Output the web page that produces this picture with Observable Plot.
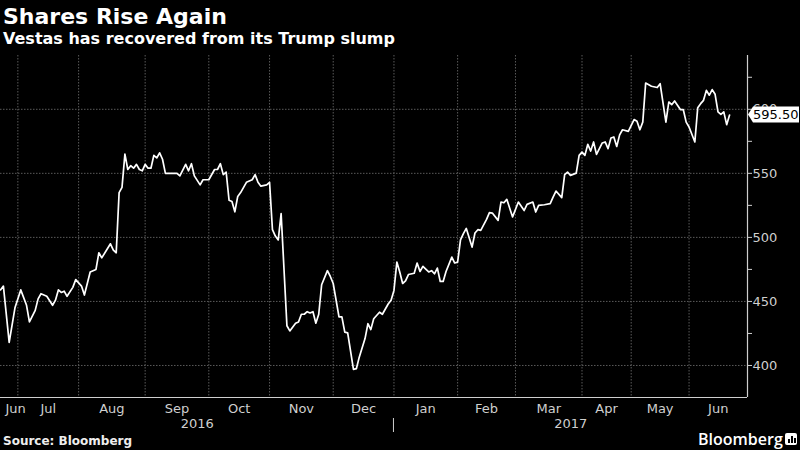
<!DOCTYPE html>
<html>
<head>
<meta charset="utf-8">
<script src="https://cdn.jsdelivr.net/npm/d3@7"></script>
<script src="https://cdn.jsdelivr.net/npm/@observablehq/plot@0.6"></script>
<style>
  html, body { margin: 0; padding: 0; background: #000; }
  #wrap { position: relative; width: 800px; height: 450px; background: #000; overflow: hidden; }
  .t { position: absolute; left: 3px; color: #fff; font-family: "DejaVu Sans", sans-serif; font-weight: bold; white-space: nowrap; }
  #title { top: 4px; font-size: 22px; line-height: 26px; }
  #subtitle { top: 29px; font-size: 16px; line-height: 20px; }
  #source { top: 434px; font-size: 12px; line-height: 14px; color: #eee; }
  #chart { position: absolute; left: 0; top: 50px; }
  #logo { position: absolute; left: 698px; top: 431px; font-family: "Open Sans", sans-serif; font-weight: 600; font-size: 16px; line-height: 16px; color: #fff; white-space: nowrap; }
  #icon { position: absolute; left: 785px; top: 433px; width: 12px; height: 12px; background: #fff; border-radius: 2px; }
  #icon i { position: absolute; bottom: 2px; width: 2px; background: #000; }
</style>
</head>
<body>
<div id="wrap">
  <div id="title" class="t">Shares Rise Again</div>
  <div id="subtitle" class="t">Vestas has recovered from its Trump slump</div>
  <div id="chart"></div>
  <div id="source" class="t">Source: Bloomberg</div>
  <div id="logo">Bloomberg</div>
  <div id="icon"><i style="left:3px;height:4px"></i><i style="left:6px;height:7px"></i><i style="left:9px;height:5px"></i></div>
</div>
<script>
// ---- data (Vestas share price, DKK) ----
const dates = [
  "2016-06-23","2016-06-24","2016-06-28","2016-06-30","2016-07-04","2016-07-06","2016-07-07","2016-07-11",
  "2016-07-12","2016-07-13","2016-07-15","2016-07-19","2016-07-20","2016-07-21","2016-07-22","2016-07-25",
  "2016-07-26","2016-07-28","2016-07-29","2016-08-02","2016-08-03","2016-08-05","2016-08-09","2016-08-10",
  "2016-08-11","2016-08-16","2016-08-17","2016-08-18","2016-08-19","2016-08-22","2016-08-23","2016-08-24",
  "2016-08-25","2016-08-26","2016-08-29","2016-08-30","2016-08-31","2016-09-01","2016-09-02","2016-09-05",
  "2016-09-06","2016-09-07","2016-09-08","2016-09-09","2016-09-12","2016-09-16","2016-09-19","2016-09-21",
  "2016-09-22","2016-09-23","2016-09-26","2016-09-28","2016-09-29","2016-10-03","2016-10-05","2016-10-06",
  "2016-10-07","2016-10-10","2016-10-11","2016-10-12","2016-10-13","2016-10-14","2016-10-17","2016-10-18",
  "2016-10-20","2016-10-24","2016-10-25","2016-10-26","2016-10-27","2016-10-31","2016-11-01","2016-11-02",
  "2016-11-03","2016-11-04","2016-11-07","2016-11-09","2016-11-10","2016-11-14","2016-11-15","2016-11-16",
  "2016-11-17","2016-11-18","2016-11-21","2016-11-22","2016-11-23","2016-11-24","2016-11-25","2016-11-29",
  "2016-11-30","2016-12-01","2016-12-05","2016-12-06","2016-12-07","2016-12-08","2016-12-12","2016-12-13",
  "2016-12-14","2016-12-16","2016-12-19","2016-12-20","2016-12-21","2016-12-23","2016-12-27","2016-12-29",
  "2016-12-30","2017-01-02","2017-01-03","2017-01-04","2017-01-05","2017-01-06","2017-01-09","2017-01-11",
  "2017-01-12","2017-01-13","2017-01-16","2017-01-18","2017-01-19","2017-01-20","2017-01-23","2017-01-24",
  "2017-01-25","2017-01-26","2017-01-30","2017-01-31","2017-02-01","2017-02-02","2017-02-03","2017-02-06",
  "2017-02-08","2017-02-09","2017-02-10","2017-02-13","2017-02-15","2017-02-16","2017-02-17","2017-02-21",
  "2017-02-22","2017-02-23","2017-02-24","2017-02-28","2017-03-02","2017-03-06","2017-03-07","2017-03-09",
  "2017-03-10","2017-03-13","2017-03-15","2017-03-17","2017-03-20","2017-03-21","2017-03-23","2017-03-24",
  "2017-03-27","2017-03-28","2017-03-30","2017-03-31","2017-04-03","2017-04-04","2017-04-05","2017-04-06",
  "2017-04-07","2017-04-10","2017-04-12","2017-04-18","2017-04-19","2017-04-20","2017-04-21","2017-04-24",
  "2017-04-25","2017-04-26","2017-04-28","2017-05-02","2017-05-03","2017-05-04","2017-05-05","2017-05-08",
  "2017-05-10","2017-05-15","2017-05-16","2017-05-18","2017-05-19","2017-05-22","2017-05-23","2017-05-29",
  "2017-05-30","2017-05-31","2017-06-01","2017-06-06","2017-06-07","2017-06-08","2017-06-09","2017-06-12",
  "2017-06-13","2017-06-14","2017-06-15","2017-06-16","2017-06-19","2017-06-20","2017-06-21","2017-06-22"
];
const closes = [
  459,462,418,445,459,447,434,443,
  452,456,454,447,451,459,457,458,
  454,461,467,462,455,473,475,488,
  484,495,490,488,535,539,565,553,
  556,554,557,553,552,557,554,554,
  564,562,566,561,550,550,548,557,
  552,557.5,548,541,545,545,553,553,
  557.5,549,551,529,528,520,532,535,
  543,545,549,543,540,541,543,506,
  501,498,518.5,431,427,433,434,440,
  440,442,441,442,433,440,463,474,
  469.5,464,438,438,426,425.5,397,397.5,
  406.5,421,432.6,428,436.5,441.6,440,448,
  451,458.6,480.7,473,464,466,471,472,
  480,473.4,477.4,473,474,471.6,476,465.6,
  465.6,473.4,484.6,480,480.7,498,503,507,
  492.4,503.4,506,505.5,514,519.3,519,513.3,
  527.6,527,529.7,516,527.6,521,525.8,527.6,
  519.8,525,525.5,526.3,531.5,536.2,531,549,
  551,548.4,550.2,564,566.6,564,572.7,567.4,
  574.5,564.8,573.7,574.5,569.3,577.6,578.4,571,
  580,584,582.8,592,590.6,584,590,620.5,
  618,617,620,590,605.7,603.6,606.5,599.8,
  599.8,590,586.2,574.5,601.3,604.4,607,614.8,
  611,615.4,611.7,598,596,598,588,595.5
];
// Copenhagen exchange holidays (weekdays with no trading) in the period
const holidays = ["2016-12-26","2017-04-13","2017-04-14","2017-04-17","2017-05-12","2017-05-25","2017-05-26","2017-06-05"];
const monthNames = ["Jun","Jul","Aug","Sep","Oct","Nov","Dec","Jan","Feb","Mar","Apr","May","Jun"];
const yearLabels = ["2016","2017"];
const yTicks = [400, 450, 500, 550, 600];
const yMinorTicks = [425, 475, 525, 575, 625];
const yDomain = [375, 642];
const lastLabel = "595.50";

// ---- trading-day index (the chart's x axis skips non-trading days) ----
const iso = d3.utcFormat("%Y-%m-%d");
const tradingDays = d3.utcDay.range(new Date(dates[0]), new Date("2017-07-01"))
  .filter(d => d.getUTCDay() % 6 !== 0 && !holidays.includes(iso(d)));
const idxOf = new Map(tradingDays.map((d, i) => [iso(d), i]));
const data = dates.map((d, k) => ({i: idxOf.get(d), v: closes[k]}));
const lastIdx = idxOf.get(dates[dates.length - 1]);
const xEnd = lastIdx + 6.2;

// month boundaries (first trading day of each month)
const monthStarts = [];
tradingDays.forEach((d, i) => {
  if (i > 0 && d.getUTCMonth() !== tradingDays[i - 1].getUTCMonth() && i <= lastIdx) monthStarts.push(i);
});
const bounds = [0, ...monthStarts, xEnd];
const monthLabels = monthNames.map((m, k) => ({x: (bounds[k] + bounds[k + 1]) / 2, text: m, first: k === 0}));
const yearBoundary = monthStarts[6]; // first trading day of January
const yearData = [
  {x: yearBoundary / 2, text: yearLabels[0]},
  {x: (yearBoundary + xEnd) / 2, text: yearLabels[1]}
];

const grid = {stroke: "#5a5a5a", strokeDasharray: "1.5,1.5", strokeWidth: 1};
const axisColor = "#cfcfcf";

const chart = Plot.plot({
  width: 800,
  height: 382,
  marginLeft: 0,
  marginRight: 53,
  marginTop: 5,
  marginBottom: 35,
  style: {background: "#000", color: axisColor, fontFamily: "DejaVu Sans", fontSize: "13px"},
  x: {type: "linear", domain: [0, xEnd], axis: null},
  y: {type: "linear", domain: yDomain, axis: null},
  marks: [
    Plot.ruleY(yTicks, grid),
    Plot.ruleX(monthStarts, grid),
    Plot.ruleY([yDomain[0]], {stroke: axisColor, strokeWidth: 1.2}),
    Plot.ruleX([xEnd], {stroke: axisColor, strokeWidth: 1.2}),
    Plot.axisY({anchor: "right", label: null, ticks: yTicks, tickSize: 4, tickPadding: 1, stroke: axisColor, fill: axisColor}),
    Plot.axisY({anchor: "right", label: null, ticks: yMinorTicks, tickSize: 4, tickFormat: () => "", stroke: axisColor}),
    Plot.line(data, {x: "i", y: "v", stroke: "#fff", strokeWidth: 1.7, strokeLinejoin: "round"}),
    Plot.text(monthLabels.filter(d => !d.first), {x: "x", y: yDomain[0], text: "text", lineAnchor: "bottom", dy: 15, fill: axisColor}),
    Plot.text(monthLabels.filter(d => d.first), {x: 0, y: yDomain[0], text: "text", lineAnchor: "bottom", textAnchor: "start", dx: 5, dy: 15, fill: axisColor}),
    Plot.text(yearData, {x: "x", y: yDomain[0], text: "text", lineAnchor: "bottom", dy: 30, fill: axisColor}),
    // year separator and last-value tag, positioned through the scales
    (index, scales) => {
      const g = d3.create("svg:g");
      const xs = scales.x(yearBoundary), yb = scales.y(yDomain[0]);
      g.append("line").attr("x1", xs).attr("x2", xs).attr("y1", yb + 21).attr("y2", yb + 36)
        .attr("stroke", axisColor).attr("stroke-width", 1);
      const y = scales.y(closes[closes.length - 1]);
      const x = scales.x(xEnd);
      g.append("path")
        .attr("d", `M${x + 1},${y} L${x + 6},${y - 8} H${x + 52} V${y + 8} H${x + 6} Z`)
        .attr("fill", "#fff");
      g.append("text")
        .attr("x", x + 6).attr("y", y).attr("dy", "0.35em")
        .attr("text-anchor", "start")
        .attr("fill", "#000").attr("font-size", 13).attr("font-family", "DejaVu Sans")
        .text(lastLabel);
      return g.node();
    }
  ]
});
document.getElementById("chart").appendChild(chart);
</script>
</body>
</html>
